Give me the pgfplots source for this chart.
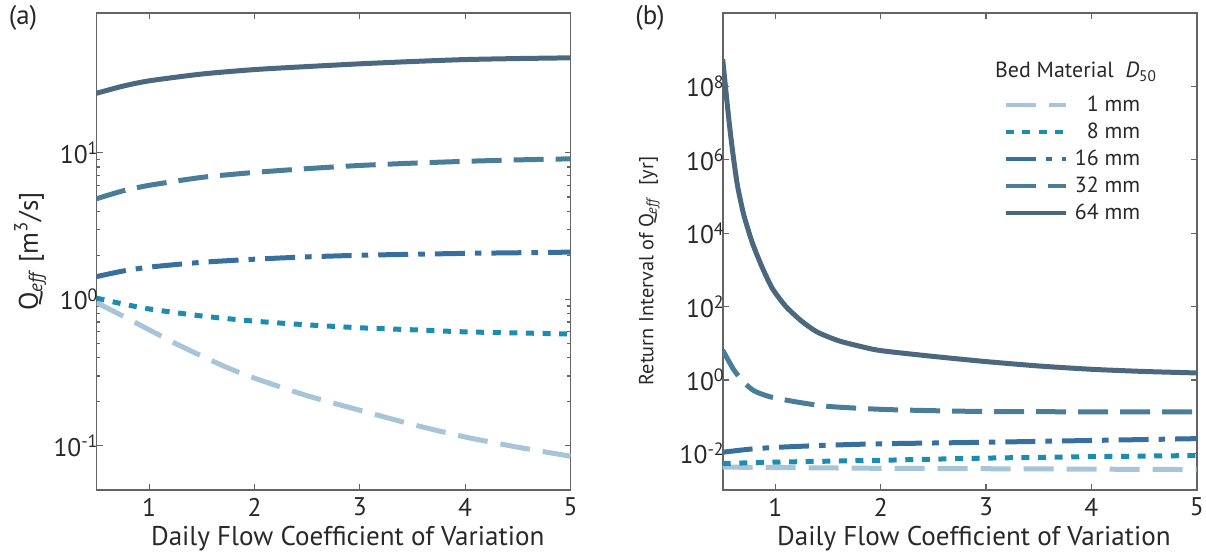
\documentclass[border=0pt]{standalone}
\usepackage{fontspec}
\setmainfont{PT Sans}
\usepackage{pgfplots}
\pgfplotsset{compat=1.18}
\definecolor{cA}{RGB}{168,196,216}
\definecolor{cB}{RGB}{28,140,176}
\definecolor{cC}{RGB}{55,112,158}
\definecolor{cD}{RGB}{74,126,152}
\definecolor{cE}{RGB}{76,104,127}
\definecolor{axc}{RGB}{100,100,100}
\definecolor{txc}{RGB}{40,40,40}
\pgfplotsset{
  myaxis/.style={
    scale only axis, width=237bp, height=238.5bp, anchor=south west,
    xmin=0.5, xmax=5, xtick={1,2,3,4,5},
    tick align=inside, major tick length=3bp, minor tick length=1.6bp,
    axis line style={axc, line width=0.8bp},
    every tick/.style={axc, line width=0.6bp},
    /pgf/number format/assume math mode=true,
    tick label style={font=\fontsize{12.8}{14}\selectfont, text=txc},
    yticklabel style={xshift=4.5bp},
    xticklabel style={inner sep=0bp, yshift=-3.8bp},
    label style={text=txc},
    xlabel={Daily Flow Coefficient of Variation},
    xlabel style={font=\fontsize{13.6}{16}\selectfont, inner sep=0bp, at={(axis description cs:0.53,-0.117)}, anchor=base},
  },
  s1/.style={cA, line width=2.5bp, smooth, tension=0.4, dash pattern=on 15bp off 6.5bp},
  s8/.style={cB, line width=2.5bp, smooth, tension=0.4, dash pattern=on 4bp off 4.3bp},
  s16/.style={cC, line width=2.5bp, smooth, tension=0.4, dash pattern=on 15bp off 5bp on 3.3bp off 5bp},
  s32/.style={cD, line width=2.5bp, smooth, tension=0.4, dash pattern=on 15bp off 6bp},
  s64/.style={cE, line width=2.5bp, smooth, tension=0.4},
}
\begin{document}
\begin{tikzpicture}
\useasboundingbox (0,0) rectangle (603bp,277bp);
% ---------- panel (a)
\begin{axis}[myaxis, ymode=log, at={(48.25bp,32bp)},
  ymin=0.05, ymax=90, ytick={0.1,1,10},
  yticklabels={10\textsuperscript{-1},10\textsuperscript{0},10\textsuperscript{1}},
  ylabel={Q\textsubscript{\textit{eff}} [m\textsuperscript{3}/s]},
  ylabel style={font=\fontsize{13.5}{15}\selectfont, at={(axis description cs:-0.14,0.5)}, anchor=center},
]
\addplot[s1] coordinates {(0.5,0.95) (0.75,0.77) (1,0.62) (1.25,0.50) (1.5,0.41) (1.75,0.34) (2,0.29) (2.5,0.22) (3,0.175) (3.5,0.14) (4,0.115) (4.5,0.098) (5,0.085)};
\addplot[s8] coordinates {(0.5,1.02) (0.75,0.93) (1,0.86) (1.5,0.77) (2,0.71) (2.5,0.67) (3,0.64) (3.5,0.62) (4,0.60) (4.5,0.59) (5,0.58)};
\addplot[s16] coordinates {(0.5,1.43) (0.75,1.56) (1,1.66) (1.5,1.79) (2,1.88) (2.5,1.95) (3,2.0) (3.5,2.03) (4,2.06) (4.5,2.08) (5,2.1)};
\addplot[s32] coordinates {(0.5,4.86) (0.75,5.5) (1,6.0) (1.5,6.8) (2,7.35) (2.5,7.8) (3,8.2) (3.5,8.5) (4,8.75) (4.5,8.95) (5,9.1)};
\addplot[s64] coordinates {(0.5,25.5) (0.75,28.5) (1,31) (1.5,34.5) (2,37) (2.5,38.8) (3,40.5) (3.5,42) (4,43.3) (4.5,44) (5,44.5)};
\end{axis}
% ---------- panel (b)
\begin{axis}[myaxis, ymode=log, at={(361.35bp,32bp)},
  ymin=1e-3, ymax=1e10, ytick={1e-2,1,1e2,1e4,1e6,1e8},
  yminorticks=false,
  yticklabels={10\textsuperscript{-2},10\textsuperscript{0},10\textsuperscript{2},10\textsuperscript{4},10\textsuperscript{6},10\textsuperscript{8}},
  ylabel={Return Interval of Q\textsubscript{\textit{eff}}\ \ [yr]},
  ylabel style={font=\fontsize{10.2}{12}\selectfont, at={(axis description cs:-0.155,0.459)}, anchor=center},
  legend style={at={(axis description cs:0.897,0.838)}, anchor=north east, draw=none, fill=none,
    font=\fontsize{11}{12}\selectfont, text=txc, row sep=3.0bp,
    nodes={inner sep=0.6bp}},
  legend cell align=right,
  legend image code/.code={\draw[#1, line width=2.2bp] (0bp,0bp) -- (30bp,0bp);},
]
\addplot[s1] coordinates {(0.5,0.0042) (1,0.0041) (2,0.0039) (3,0.0038) (4,0.0037) (5,0.0036)};
\addlegendentry{\hspace{3bp}1 mm}
\addplot[s8] coordinates {(0.5,0.00525) (1,0.00575) (2,0.00646) (3,0.0074) (4,0.0081) (5,0.0087)};
\addlegendentry{\hspace{3bp}8 mm}
\addplot[s16] coordinates {(0.5,0.0107) (0.75,0.0129) (1,0.0145) (1.5,0.0166) (2,0.0182) (3,0.02) (4,0.0224) (5,0.0251)};
\addlegendentry{\hspace{3bp}16 mm}
\addplot[s32] coordinates {(0.5,6.46) (0.55,3.55) (0.6,2.0) (0.65,1.26) (0.7,0.85) (0.8,0.5) (0.95,0.347) (1.2,0.251) (1.5,0.19) (2,0.158) (2.5,0.145) (3,0.138) (4,0.135) (5,0.135)};
\addlegendentry{\hspace{3bp}32 mm}
\addplot[s64] coordinates {(0.5,5.5e8) (0.54,3.98e7) (0.57,6.3e6) (0.6,1.26e6) (0.64,2.0e5) (0.7,3.16e4) (0.78,5.6e3) (0.87,1.26e3) (0.97,316) (1.1,100) (1.25,39.8) (1.4,20) (1.6,11.7) (1.8,8.3) (2,6.3) (2.5,4.37) (3,3.16) (3.5,2.4) (4,1.95) (4.5,1.7) (5,1.55)};
\addlegendentry{\hspace{3bp}64 mm}
\end{axis}
\node[font=\fontsize{11}{12}\selectfont, text=txc] at (538bp,241bp) {Bed Material\ \ \textit{D}\textsubscript{50}};
\node[font=\fontsize{13.5}{15}\selectfont, text=txc] at (11.5bp,268bp) {(a)};
\node[font=\fontsize{13.5}{15}\selectfont, text=txc] at (325bp,268bp) {(b)};
\end{tikzpicture}
\end{document}
